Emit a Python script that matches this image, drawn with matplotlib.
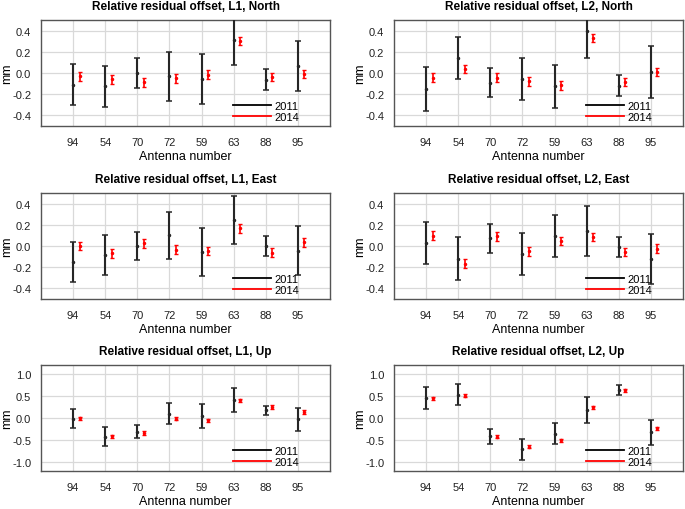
import numpy as np
import matplotlib
matplotlib.use('agg')
import matplotlib.pyplot as plt
from matplotlib.lines import Line2D

plt.rcParams['font.family'] = ['Liberation Sans', 'DejaVu Sans']

antennas = ['94', '54', '70', '72', '59', '63', '88', '95']

# values and 1-sigma errors, 2011 and 2014, per panel
l1_north_2011 = [-0.11, -0.125, 0.0, -0.03, -0.057, 0.31, -0.063, 0.066]
l1_north_2011_err = [0.195, 0.195, 0.14, 0.23, 0.233, 0.235, 0.097, 0.235]
l1_north_2014 = [-0.03, -0.06, -0.088, -0.05, -0.016, 0.30, -0.038, -0.01]
l1_north_2014_err = [0.042, 0.04, 0.04, 0.04, 0.04, 0.04, 0.04, 0.04]

l2_north_2011 = [-0.15, 0.139, -0.09, -0.054, -0.126, 0.394, -0.12, 0.01]
l2_north_2011_err = [0.205, 0.2, 0.14, 0.2, 0.205, 0.25, 0.097, 0.247]
l2_north_2014 = [-0.044, 0.038, -0.044, -0.079, -0.117, 0.328, -0.085, 0.01]
l2_north_2014_err = [0.04, 0.04, 0.04, 0.04, 0.04, 0.04, 0.04, 0.04]

l1_east_2011 = [-0.148, -0.082, 0.0, 0.10, -0.057, 0.243, 0.003, -0.044]
l1_east_2011_err = [0.19, 0.19, 0.135, 0.225, 0.227, 0.227, 0.095, 0.23]
l1_east_2014 = [0.0, -0.07, 0.025, -0.035, -0.047, 0.167, -0.063, 0.035]
l1_east_2014_err = [0.04, 0.04, 0.04, 0.04, 0.04, 0.04, 0.04, 0.04]

l2_east_2011 = [0.03, -0.118, 0.072, -0.075, 0.094, 0.139, -0.008, -0.125]
l2_east_2011_err = [0.197, 0.2, 0.134, 0.2, 0.197, 0.237, 0.093, 0.237]
l2_east_2014 = [0.098, -0.167, 0.091, -0.05, 0.047, 0.085, -0.057, -0.025]
l2_east_2014_err = [0.04, 0.04, 0.04, 0.04, 0.04, 0.04, 0.04, 0.04]

l1_up_2011 = [-0.02, -0.42, -0.307, 0.1, 0.045, 0.41, 0.17, -0.03]
l1_up_2011_err = [0.217, 0.213, 0.157, 0.247, 0.262, 0.266, 0.11, 0.26]
l1_up_2014 = [-0.01, -0.41, -0.34, -0.02, -0.05, 0.40, 0.25, 0.135]
l1_up_2014_err = [0.035, 0.035, 0.035, 0.035, 0.035, 0.035, 0.035, 0.035]

l2_up_2011 = [0.455, 0.527, -0.417, -0.71, -0.357, 0.18, 0.635, -0.32]
l2_up_2011_err = [0.245, 0.24, 0.162, 0.237, 0.237, 0.286, 0.109, 0.28]
l2_up_2014 = [0.444, 0.504, -0.42, -0.647, -0.504, 0.24, 0.624, -0.233]
l2_up_2014_err = [0.035, 0.035, 0.035, 0.035, 0.035, 0.035, 0.035, 0.035]

panels = [
    ('Relative residual offset, L1, North', l1_north_2011, l1_north_2011_err, l1_north_2014, l1_north_2014_err, 'ne'),
    ('Relative residual offset, L2, North', l2_north_2011, l2_north_2011_err, l2_north_2014, l2_north_2014_err, 'ne'),
    ('Relative residual offset, L1, East', l1_east_2011, l1_east_2011_err, l1_east_2014, l1_east_2014_err, 'ne'),
    ('Relative residual offset, L2, East', l2_east_2011, l2_east_2011_err, l2_east_2014, l2_east_2014_err, 'ne'),
    ('Relative residual offset, L1, Up', l1_up_2011, l1_up_2011_err, l1_up_2014, l1_up_2014_err, 'up'),
    ('Relative residual offset, L2, Up', l2_up_2011, l2_up_2011_err, l2_up_2014, l2_up_2014_err, 'up'),
]

fig = plt.figure(figsize=(6.85, 5.1), dpi=100)
lefts = [41/685, 394/685]
width = 289/685
bottoms = [1 - 127/510, 1 - 300/510, 1 - 472/510]
height = 106/510

x = np.arange(1, len(antennas) + 1)
dark = '#262626'
for i, (title, v11, e11, v14, e14, kind) in enumerate(panels):
    ax = fig.add_axes([lefts[i % 2], bottoms[i // 2], width, height])
    ax.errorbar(x, v11, yerr=e11, fmt='.', color=dark, ecolor=dark,
                markersize=3, elinewidth=1.5, capsize=2.2, capthick=1.1, zorder=3)
    ax.errorbar(x + 0.2, v14, yerr=e14, fmt='.', color='red', ecolor='red',
                markersize=3, elinewidth=1.2, capsize=1.6, capthick=1.0, zorder=3)
    ax.set_xlim(0, 9)
    if kind == 'up':
        ax.set_ylim(-1.2, 1.2)
        ax.set_yticks([-1.0, -0.5, 0.0, 0.5, 1.0])
        ax.set_yticklabels(['-1.0', '-0.5', '0.0', '0.5', '1.0'])
    else:
        ax.set_ylim(-0.5, 0.5)
        ax.set_yticks([-0.4, -0.2, 0.0, 0.2, 0.4])
        ax.set_yticklabels(['-0.4', '-0.2', '0.0', '0.2', '0.4'])
    ax.set_xticks(x)
    ax.set_xticklabels(antennas)
    ax.grid(True, color='#d9d9d9', linewidth=0.9, zorder=0)
    ax.set_axisbelow(True)
    for s in ax.spines.values():
        s.set_color('#555555')
        s.set_linewidth(1.0)
    ax.tick_params(axis='both', length=0, labelsize=8, colors='#222222')
    ax.tick_params(axis='x', pad=8)
    ax.tick_params(axis='y', pad=7)
    ax.set_title(title, fontsize=8.5, fontweight='bold', pad=8)
    ax.set_xlabel('Antenna number', fontsize=9, labelpad=2)
    ax.set_ylabel('mm', fontsize=9)
    ax.yaxis.set_label_coords(-0.095, 0.5)
    handles = [Line2D([], [], color='black', lw=1.3),
               Line2D([], [], color='red', lw=1.3)]
    ax.legend(handles, ['2011', '2014'], loc='lower left', bbox_to_anchor=(0.665, 0.035),
              frameon=False, fontsize=8, handlelength=3.4, handletextpad=0.3,
              labelspacing=0.12, borderpad=0, borderaxespad=0)

fig.savefig('out.png', dpi=100)
